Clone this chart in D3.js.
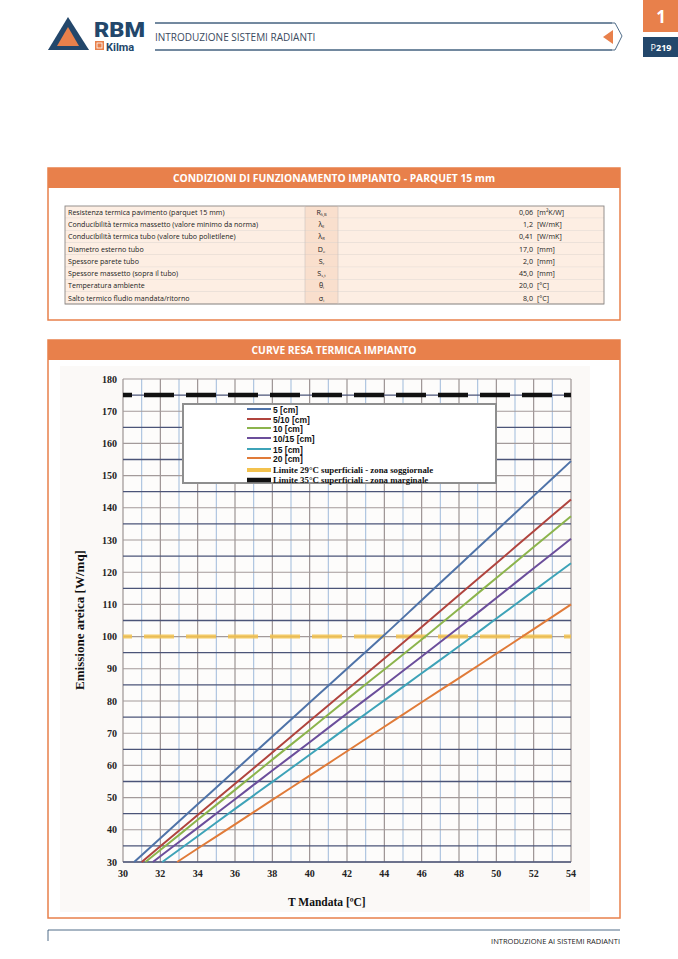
<!DOCTYPE html>
<html>
<head>
<meta charset="utf-8">
<script src="https://cdn.jsdelivr.net/npm/d3@7"></script>
<style>
  body { margin: 0; background: #fff; }
  svg { display: block; }
</style>
</head>
<body>
<script>
// ---- data ----
var tempTicks = [30, 32, 34, 36, 38, 40, 42, 44, 46, 48, 50, 52, 54];
var emisTicks = [30, 40, 50, 60, 70, 80, 90, 100, 110, 120, 130, 140, 150, 160, 170, 180];

var seriesNames = ["5  [cm]", "5/10 [cm]", "10  [cm]", "10/15 [cm]", "15  [cm]", "20  [cm]"];
var seriesColors = ["#4f73a8", "#b0443e", "#8cb44c", "#6b4e9b", "#3ea3b8", "#e07b39"];

var s5 = [[30.6, 30], [32, 37.4], [34, 47.9], [36, 58.4], [38, 69.0], [40, 79.5], [42, 90.0], [44, 100.5], [46, 111.3], [48, 122.1], [50, 132.9], [52, 143.7], [54, 154.5]];
var s5_10 = [[31.0, 30], [32, 34.9], [34, 44.6], [36, 54.3], [38, 64.0], [40, 73.8], [42, 83.5], [44, 93.2], [46, 103.0], [48, 112.9], [50, 122.8], [52, 132.7], [54, 142.6]];
var s10 = [[31.2, 30], [32, 33.7], [34, 43.1], [36, 52.4], [38, 61.8], [40, 71.1], [42, 80.5], [44, 89.8], [46, 99.1], [48, 108.6], [50, 118.2], [52, 127.8], [54, 137.4]];
var s10_15 = [[31.6, 30], [32, 31.8], [34, 40.6], [36, 49.5], [38, 58.4], [40, 67.2], [42, 76.1], [44, 84.9], [46, 93.8], [48, 102.8], [50, 112.0], [52, 121.2], [54, 130.4]];
var s15 = [[32.1, 30], [34, 38.0], [36, 46.5], [38, 54.9], [40, 63.3], [42, 71.8], [44, 80.2], [46, 88.6], [48, 97.0], [50, 105.6], [52, 114.2], [54, 122.8]];
var s20 = [[32.9, 30], [34, 34.2], [36, 41.7], [38, 49.3], [40, 56.8], [42, 64.4], [44, 72.0], [46, 79.6], [48, 87.1], [50, 94.7], [52, 102.3], [54, 110.0]];
var allSeries = [s5, s5_10, s10, s10_15, s15, s20];

var limitNames = ["Limite 29°C superficiali - zona soggiornale", "Limite 35°C superficiali - zona marginale"];
var limitValues = [100, 175];
var limitColors = ["#f3c24e", "#111111"];

var tableLabels = [
  "Resistenza termica pavimento (parquet 15 mm)",
  "Conducibilità termica massetto (valore minimo da norma)",
  "Conducibilità termica tubo (valore tubo polietilene)",
  "Diametro esterno tubo",
  "Spessore parete tubo",
  "Spessore massetto (sopra il tubo)",
  "Temperatura ambiente",
  "Salto termico fludio mandata/ritorno"
];
var tableSymbols = [["R", "λ,B"], ["λ", "E"], ["λ", "R"], ["D", "e"], ["S", "r"], ["S", "s,t"], ["θ", "i"], ["σ", "i"]];
var tableValues = ["0,06", "1,2", "0,41", "17,0", "2,0", "45,0", "20,0", "8,0"];
var tableUnits = ["[m²K/W]", "[W/mK]", "[W/mK]", "[mm]", "[mm]", "[mm]", "[°C]", "[°C]"];

// ---- page ----
var W = 678, H = 959;
var orange = "#e8804b", navy = "#23476b";
var svg = d3.select("body").append("svg").attr("width", W).attr("height", H);

// header / logo
var logo = svg.append("g");
logo.append("path").attr("d", "M48,50 L68,17 L89,50 Z").attr("fill", navy);
logo.append("path").attr("d", "M57,46 L68,27 L79,46 Z").attr("fill", orange);
logo.append("path").attr("d", "M48,50 L56,46 L80,46 L89,50 Z").attr("fill", navy);
logo.append("text").attr("x", 94).attr("y", 37).text("RBM")
  .attr("font-family", "Roboto, sans-serif").attr("font-weight", "900").attr("font-size", 21)
  .attr("fill", navy).attr("textLength", 51).attr("lengthAdjust", "spacingAndGlyphs");
logo.append("rect").attr("x", 95).attr("y", 41).attr("width", 9).attr("height", 9).attr("fill", orange);
logo.append("rect").attr("x", 97).attr("y", 43).attr("width", 5).attr("height", 5).attr("fill", "none").attr("stroke", "#fff").attr("stroke-width", 0.8);
logo.append("text").attr("x", 106).attr("y", 51).text("Kilma")
  .attr("font-family", "Roboto, sans-serif").attr("font-weight", "700").attr("font-size", 11).attr("fill", navy);

svg.append("path").attr("d", "M155,23 L615,23 L622,36 L615,50 L155,50")
  .attr("fill", "none").attr("stroke", navy).attr("stroke-width", 0.8);
svg.append("rect").attr("x", 154).attr("y", 24).attr("width", 448).attr("height", 25).attr("fill", "#fff");
svg.append("line").attr("x1", 155).attr("x2", 612).attr("y1", 23).attr("y2", 23).attr("stroke", navy).attr("stroke-width", 0.8);
svg.append("line").attr("x1", 155).attr("x2", 612).attr("y1", 50).attr("y2", 50).attr("stroke", navy).attr("stroke-width", 0.8);
svg.append("text").attr("x", 155).attr("y", 41).text("INTRODUZIONE SISTEMI RADIANTI")
  .attr("font-family", "Open Sans, sans-serif").attr("font-size", 10).attr("fill", "#3a4a5e");
svg.append("path").attr("d", "M603,37 L613,30 L613,44 Z").attr("fill", orange);

svg.append("rect").attr("x", 643).attr("y", 0).attr("width", 35).attr("height", 32).attr("fill", orange);
svg.append("text").attr("x", 661).attr("y", 23).attr("text-anchor", "middle").text("1")
  .attr("font-family", "Open Sans, sans-serif").attr("font-weight", "700").attr("font-size", 17).attr("fill", "#fff");
svg.append("rect").attr("x", 643).attr("y", 37).attr("width", 35).attr("height", 20).attr("fill", navy);
svg.append("text").attr("x", 661).attr("y", 51).attr("text-anchor", "middle")
  .attr("font-family", "Open Sans, sans-serif").attr("font-size", 9).attr("fill", "#fff")
  .call(function (t) { t.append("tspan").text("P"); t.append("tspan").attr("font-weight", "700").text("219"); });

// footer
svg.append("path").attr("d", "M48,941 L48,930 L620,930").attr("fill", "none").attr("stroke", navy).attr("stroke-width", 0.8);
svg.append("text").attr("x", 620).attr("y", 944).attr("text-anchor", "end").text("INTRODUZIONE AI SISTEMI RADIANTI")
  .attr("font-family", "Open Sans, sans-serif").attr("font-size", 7.5).attr("fill", "#222");

// panels
function panel(x, y, w, h, title) {
  svg.append("rect").attr("x", x).attr("y", y).attr("width", w).attr("height", h)
    .attr("fill", "#fff").attr("stroke", orange).attr("stroke-width", 1.5);
  svg.append("rect").attr("x", x).attr("y", y).attr("width", w).attr("height", 20).attr("fill", orange);
  svg.append("text").attr("x", x + w / 2).attr("y", y + 14).attr("text-anchor", "middle").text(title)
    .attr("font-family", "Open Sans, sans-serif").attr("font-weight", "700").attr("font-size", 10.3).attr("fill", "#fff");
}
panel(48, 168, 572, 152, "CONDIZIONI DI FUNZIONAMENTO IMPIANTO - PARQUET 15 mm");
panel(48, 340, 572, 578, "CURVE RESA TERMICA IMPIANTO");

// table
var tX = 65, tY = 206, rowH = 12.25, c1 = 305, c2 = 338, tR = 604;
var rowScale = d3.scaleBand().domain(d3.range(tableLabels.length)).range([tY, tY + rowH * tableLabels.length]);
var tbl = svg.append("g").attr("font-family", "Open Sans, sans-serif").attr("font-size", 7.1).attr("fill", "#222");
var rows = tbl.selectAll("g.row").data(tableLabels).join("g").attr("class", "row")
  .attr("transform", function (d, i) { return "translate(0," + rowScale(i) + ")"; });
rows.append("rect").attr("x", tX).attr("width", c1 - tX).attr("height", rowH).attr("fill", "#fdeee3");
rows.append("rect").attr("x", c1).attr("width", c2 - c1).attr("height", rowH).attr("fill", "#f9dfcd");
rows.append("rect").attr("x", c2).attr("width", tR - c2).attr("height", rowH).attr("fill", "#fdeee3");
rows.append("line").attr("x1", tX).attr("x2", tR).attr("y1", rowH).attr("y2", rowH).attr("stroke", "#c9c4c0").attr("stroke-width", 0.6);
rows.append("text").attr("x", tX + 3).attr("y", rowH - 3.5).text(function (d) { return d; });
rows.append("text").attr("x", (c1 + c2) / 2).attr("y", rowH - 3.5).attr("text-anchor", "middle")
  .each(function (d, i) {
    var t = d3.select(this);
    t.append("tspan").text(tableSymbols[i][0]);
    t.append("tspan").attr("font-size", 4).attr("dy", 1.2).text(tableSymbols[i][1]);
  });
rows.append("text").attr("x", 533).attr("y", rowH - 3.5).attr("text-anchor", "end").text(function (d, i) { return tableValues[i]; });
rows.append("text").attr("x", 537).attr("y", rowH - 3.5).text(function (d, i) { return tableUnits[i]; });
tbl.append("rect").attr("x", tX).attr("y", tY).attr("width", tR - tX).attr("height", rowH * tableLabels.length)
  .attr("fill", "none").attr("stroke", "#8a8684").attr("stroke-width", 0.9);
tbl.selectAll("line.col").data([c1, c2]).join("line").attr("class", "col")
  .attr("x1", function (d) { return d; }).attr("x2", function (d) { return d; })
  .attr("y1", tY).attr("y2", tY + rowH * tableLabels.length).attr("stroke", "#c9c4c0").attr("stroke-width", 0.6);

// ---- chart ----
svg.append("rect").attr("x", 60).attr("y", 366).attr("width", 530).attr("height", 546).attr("fill", "#fbf9f7");
var x = d3.scaleLinear().domain([30, 54]).range([123, 571]);
var y = d3.scaleLinear().domain([30, 180]).range([862, 379]);
var chart = svg.append("g");

chart.append("rect").attr("x", x(30)).attr("y", y(180)).attr("width", x(54) - x(30)).attr("height", y(30) - y(180)).attr("fill", "#fdfcfb");

var vGrid = d3.range(30, 55, 1);
chart.selectAll("line.vg").data(vGrid).join("line").attr("class", "vg")
  .attr("x1", function (d) { return x(d); }).attr("x2", function (d) { return x(d); })
  .attr("y1", y(180)).attr("y2", y(30))
  .attr("stroke", function (d) { return d % 2 ? "#a8c0de" : "#948a8a"; }).attr("stroke-width", 1.1);
var hGrid = d3.range(30, 181, 5);
chart.selectAll("line.hg").data(hGrid).join("line").attr("class", "hg")
  .attr("x1", x(30)).attr("x2", x(54))
  .attr("y1", function (d) { return y(d); }).attr("y2", function (d) { return y(d); })
  .attr("stroke", function (d) { return d % 10 ? "#4b5478" : "#a39a9a"; }).attr("stroke-width", function (d) { return d % 10 ? 1.3 : 1.1; });
chart.append("line").attr("x1", x(30)).attr("x2", x(54)).attr("y1", y(30)).attr("y2", y(30)).attr("stroke", "#4b5478").attr("stroke-width", 1.3);

// limit lines
chart.selectAll("line.lim").data(limitValues).join("line").attr("class", "lim")
  .attr("x1", x(30)).attr("x2", x(54))
  .attr("y1", function (d) { return y(d); }).attr("y2", function (d) { return y(d); })
  .attr("stroke", function (d, i) { return limitColors[i]; })
  .attr("stroke-width", function (d, i) { return i ? 4.5 : 4; })
  .attr("stroke-dasharray", "30,12").attr("stroke-dashoffset", 21)
  .attr("opacity", function (d, i) { return i ? 1 : 0.85; });

// series
var line = d3.line().x(function (d) { return x(d[0]); }).y(function (d) { return y(d[1]); }).curve(d3.curveMonotoneX);
chart.selectAll("path.s").data(allSeries).join("path").attr("class", "s")
  .attr("d", line).attr("fill", "none")
  .attr("stroke", function (d, i) { return seriesColors[i]; }).attr("stroke-width", 2);

// axes labels
var serif = "Liberation Serif, Times New Roman, serif";
chart.selectAll("text.yt").data(emisTicks).join("text").attr("class", "yt")
  .attr("x", 117).attr("y", function (d) { return y(d) + 3.5; }).attr("text-anchor", "end")
  .attr("font-family", serif).attr("font-weight", "700").attr("font-size", 10).attr("fill", "#222")
  .text(function (d) { return d; });
chart.selectAll("text.xt").data(tempTicks).join("text").attr("class", "xt")
  .attr("x", function (d) { return x(d); }).attr("y", 877).attr("text-anchor", "middle")
  .attr("font-family", serif).attr("font-weight", "700").attr("font-size", 10).attr("fill", "#222")
  .text(function (d) { return d; });
chart.append("text").attr("transform", "translate(84,620) rotate(-90)").attr("text-anchor", "middle")
  .attr("font-family", serif).attr("font-weight", "700").attr("font-size", 13).attr("fill", "#111")
  .text("Emissione areica [W/mq]");
chart.append("text").attr("x", 288).attr("y", 906)
  .attr("font-family", serif).attr("font-weight", "700").attr("font-size", 11.5).attr("fill", "#111")
  .text("T  Mandata [ºC]");

// legend
var lg = chart.append("g");
lg.append("rect").attr("x", 183).attr("y", 404).attr("width", 313).attr("height", 79)
  .attr("fill", "#fff").attr("stroke", "#8e8e8e").attr("stroke-width", 2);
var legendItems = seriesNames.map(function (n, i) { return { name: n, color: seriesColors[i], w: 2, sans: true }; })
  .concat(limitNames.map(function (n, i) { return { name: n, color: limitColors[i], w: i ? 4.5 : 4, sans: false }; }));
var legendY = [409, 419, 428, 438, 449, 458, 470, 480];
var li = lg.selectAll("g.li").data(legendItems).join("g").attr("class", "li")
  .attr("transform", function (d, i) { return "translate(0," + legendY[i] + ")"; });
li.append("line").attr("x1", 247).attr("x2", 271).attr("y1", 0).attr("y2", 0)
  .attr("stroke", function (d) { return d.color; }).attr("stroke-width", function (d) { return d.w; });
li.append("text").attr("x", 273).attr("y", function (d) { return d.sans ? 3.5 : 3; })
  .attr("font-family", function (d) { return d.sans ? "Liberation Sans, Arial, sans-serif" : serif; })
  .attr("font-weight", "700").attr("font-size", function (d) { return d.sans ? 8.5 : 8.8; }).attr("fill", "#111")
  .text(function (d) { return d.name; });
</script>
</body>
</html>
